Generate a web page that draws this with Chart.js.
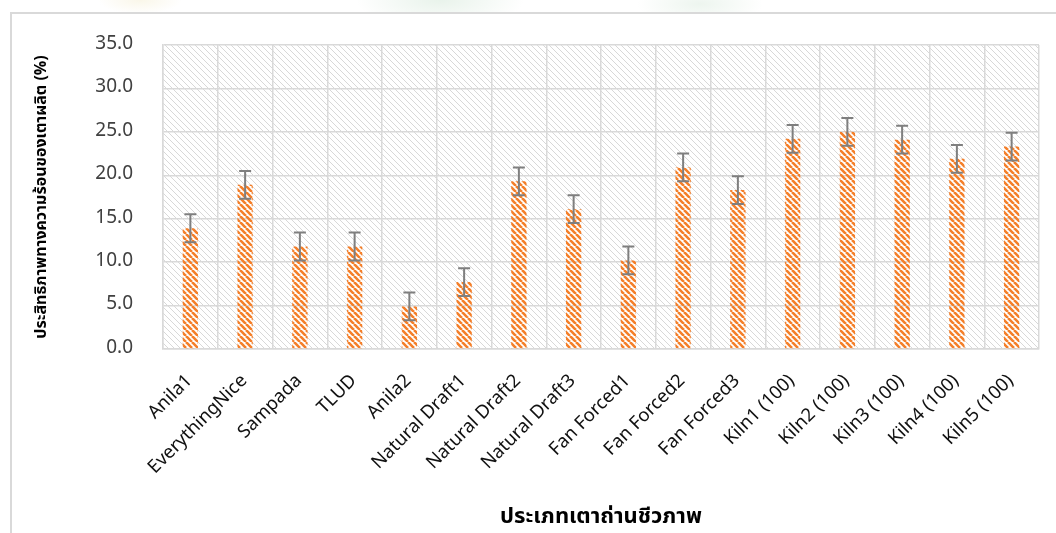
<!DOCTYPE html>
<html>
<head>
<meta charset="utf-8">
<title>ประสิทธิภาพทางความร้อนของเตาผลิต</title>
<script src="https://cdn.jsdelivr.net/npm/chart.js@4.4.1/dist/chart.umd.min.js"></script>
<style>
  html, body { margin: 0; padding: 0; background: #fff; }
  #wrap { position: relative; width: 1056px; height: 533px; overflow: hidden; }
  #frame {
    position: absolute; left: 10px; top: 12px; width: 1100px; height: 600px;
    border-left: 2px solid #d9d9d9; border-top: 2px solid #d9d9d9;
  }
  #mark {
    position: absolute; left: 0; top: 0; width: 1056px; height: 12px;
    background:
      radial-gradient(ellipse 120px 40px at 440px 0px, rgba(205,228,210,0.45), rgba(255,255,255,0) 70%),
      radial-gradient(ellipse 90px 30px at 700px 4px, rgba(210,230,214,0.4), rgba(255,255,255,0) 70%),
      radial-gradient(ellipse 60px 20px at 140px 0px, rgba(242,234,200,0.4), rgba(255,255,255,0) 70%);
  }
  canvas { position: absolute; left: 0; top: 0; }
</style>
</head>
<body>
<div id="wrap">
  <div id="mark"></div>
  <div id="frame"></div>
  <canvas id="chart" width="1056" height="533"></canvas>
</div>
<script>
const categories = ['Anila1', 'EverythingNice', 'Sampada', 'TLUD', 'Anila2',
  'Natural Draft1', 'Natural Draft2', 'Natural Draft3', 'Fan Forced1', 'Fan Forced2',
  'Fan Forced3', 'Kiln1 (100)', 'Kiln2 (100)', 'Kiln3 (100)', 'Kiln4 (100)', 'Kiln5 (100)'];
const efficiency = [13.9, 18.9, 11.8, 11.8, 4.9, 7.7, 19.3, 16.1, 10.2, 20.9, 18.3, 24.2, 25.0, 24.1, 21.9, 23.3];
const errors = [1.6, 1.6, 1.6, 1.6, 1.6, 1.6, 1.6, 1.6, 1.6, 1.6, 1.6, 1.6, 1.6, 1.6, 1.6, 1.6];
const yTicks = [0, 5, 10, 15, 20, 25, 30, 35];

const FONT = '"Noto Sans Thai", "Noto Sans", "DejaVu Sans", Tahoma, sans-serif';

// diagonal hatch tiles ("\" direction)
function hatch(size, color, width, bg) {
  const c = document.createElement('canvas');
  c.width = size; c.height = size;
  const g = c.getContext('2d');
  if (bg) { g.fillStyle = bg; g.fillRect(0, 0, size, size); }
  g.strokeStyle = color;
  g.lineWidth = width;
  g.beginPath();
  for (let k = -1; k <= 1; k++) {
    g.moveTo(k * size, 0);
    g.lineTo(k * size + size, size);
  }
  g.stroke();
  return g.createPattern(c, 'repeat');
}

const ctx = document.getElementById('chart').getContext('2d');
const barFill = hatch(6, '#f47f2a', 2.6, null);
const plotFill = hatch(6, '#d8d8d8', 1, '#ffffff');

const plotBackground = {
  id: 'plotBackground',
  beforeDraw(chart) {
    const { ctx, chartArea: a } = chart;
    ctx.save();
    ctx.fillStyle = plotFill;
    ctx.fillRect(a.left, a.top, a.right - a.left, a.bottom - a.top);
    ctx.restore();
  }
};

const errorBars = {
  id: 'errorBars',
  afterDatasetsDraw(chart) {
    const { ctx } = chart;
    const y = chart.scales.y;
    const meta = chart.getDatasetMeta(0);
    ctx.save();
    ctx.strokeStyle = '#7f7f7f';
    ctx.lineWidth = 2;
    meta.data.forEach((bar, i) => {
      const hi = y.getPixelForValue(efficiency[i] + errors[i]);
      const lo = y.getPixelForValue(efficiency[i] - errors[i]);
      const x = bar.x;
      ctx.beginPath();
      ctx.moveTo(x, hi); ctx.lineTo(x, lo);
      ctx.moveTo(x - 6, hi); ctx.lineTo(x + 6, hi);
      ctx.moveTo(x - 6, lo); ctx.lineTo(x + 6, lo);
      ctx.stroke();
    });
    ctx.restore();
  }
};

new Chart(ctx, {
  type: 'bar',
  data: {
    labels: categories,
    datasets: [{
      data: efficiency,
      backgroundColor: barFill,
      borderWidth: 0,
      barPercentage: 0.28,
      categoryPercentage: 1,
    }],
  },
  options: {
    responsive: false,
    animation: false,
    layout: { padding: { top: 45, right: 17, left: 0, bottom: 0 } },
    plugins: { legend: { display: false }, tooltip: { enabled: false } },
    scales: {
      x: {
        afterFit(scale) { scale.height = 184; },
        grid: { color: '#d9d9d9', lineWidth: 1.5, drawTicks: false, offset: true },
        border: { color: '#d9d9d9', width: 1.5 },
        ticks: {
          color: '#111', font: { family: FONT, size: 18.5 },
          minRotation: 45, maxRotation: 45, padding: 22, autoSkip: false,
        },
        title: {
          display: true, text: 'ประเภทเตาถ่านชีวภาพ', color: '#000',
          font: { family: FONT, size: 22, weight: 'bold' }, padding: { bottom: 1 },
        },
      },
      y: {
        min: 0, max: 35,
        afterFit(scale) { scale.width = 163; },
        afterBuildTicks(scale) { scale.ticks = yTicks.map(v => ({ value: v })); },
        grid: { color: '#d9d9d9', lineWidth: 1.5, drawTicks: false },
        border: { color: '#d9d9d9', width: 1.5 },
        ticks: {
          color: '#404040', font: { family: FONT, size: 19 }, padding: 30,
          callback: v => v.toFixed(1),
        },
        title: {
          display: true, text: 'ประสิทธิภาพทางความร้อนของเตาผลิต (%)', color: '#000',
          font: { family: FONT, size: 16, weight: 'bold' }, padding: { top: 33 },
        },
      },
    },
  },
  plugins: [plotBackground, errorBars],
});
</script>
</body>
</html>
